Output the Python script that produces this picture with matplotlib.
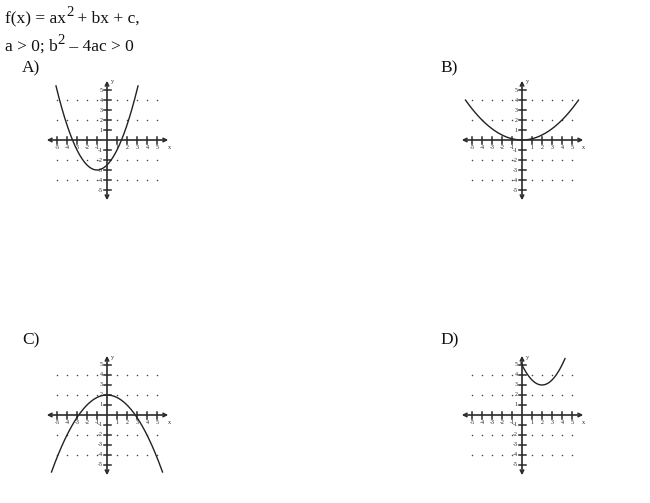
import numpy as np
import matplotlib.pyplot as plt

plt.rcParams['font.family'] = ['Liberation Serif', 'DejaVu Serif']

# answer choices, each a parabola y = a*(x - h)^2 + k
labels = ['A)', 'B)', 'C)', 'D)']
coef_a = [0.5, 0.125, -0.25, 0.5]
vertex_h = [-1.0, 0.0, 0.0, 2.0]
vertex_k = [-3.0, 0.0, 2.0, 3.0]
x_start = [-5.1, -5.65, -5.55, -0.1]
x_end = [3.1, 5.65, 5.55, 4.3]

tick_vals = [-5, -4, -3, -2, -1, 1, 2, 3, 4, 5]
dot_rows = [-4, -2, 2, 4]
dot_cols = [-5, -4, -3, -2, -1, 1, 2, 3, 4, 5]

W, H = 650, 503
fig = plt.figure(figsize=(W / 100, H / 100), dpi=100)
renderer = fig.canvas.get_renderer()


def write_line(pieces, x0, ybase, size):
    # pieces: (text, superscript?) written one after another, baseline in px from top
    x = x0
    for txt, sup in pieces:
        yy = ybase - (7 if sup else 0)
        fs = size * 0.85 if sup else size
        t = fig.text(x / W, 1 - yy / H, txt, fontsize=fs, ha='left', va='baseline', color='#111')
        bb = t.get_window_extent(renderer)
        x += bb.width


# question text
write_line([('f(x) = ax', False), ('2', True), (' + bx + c,', False)], 5, 23, 12.5)
write_line([('a > 0; b', False), ('2', True), (' – 4ac > 0', False)], 5, 51, 12.5)

# pixel position of each graph's origin and its letter
origins = [(107, 140), (522, 140), (107, 415), (522, 415)]
label_pos = [(22, 68), (440, 68), (22, 340), (440, 340)]
half = 70  # pixels, 10 px per unit

col = '#2a2a2a'
for i in range(4):
    ox, oy = origins[i]
    ax = fig.add_axes([(ox - half) / W, 1 - (oy + half) / H, 2 * half / W, 2 * half / H])
    ax.set_xlim(-7, 7)
    ax.set_ylim(-7, 7)
    ax.axis('off')

    # dotted guide rows
    for r in dot_rows:
        ax.scatter(dot_cols, [r] * len(dot_cols), s=1.2, color='#444444', lw=0)

    # axes with arrows at both ends
    ax.annotate('', xy=(6.4, 0), xytext=(-6.3, 0),
                arrowprops=dict(arrowstyle='<->', lw=1.2, color=col, mutation_scale=6))
    ax.annotate('', xy=(0, 6.2), xytext=(0, -6.3),
                arrowprops=dict(arrowstyle='<->', lw=1.2, color=col, mutation_scale=6))

    for t in tick_vals:
        ax.plot([t, t], [-0.35, 0.35], color=col, lw=1.1)
        ax.plot([-0.35, 0.35], [t, t], color=col, lw=1.1)
        ax.text(t, -0.75, str(t), fontsize=4.3, ha='center', va='center', color='#222')
        ax.text(-0.4, t, str(t), fontsize=4.3, ha='right', va='center', color='#222')
    ax.text(6.2, -0.75, 'x', fontsize=4.5, ha='center', va='center', color='#222')
    ax.text(0.5, 5.8, 'y', fontsize=4.5, ha='center', va='center', color='#222')

    xs = np.linspace(x_start[i], x_end[i], 200)
    ys = coef_a[i] * (xs - vertex_h[i]) ** 2 + vertex_k[i]
    ax.plot(xs, ys, color='#222222', lw=1.0)

    lx, ly = label_pos[i]
    fig.text(lx / W, 1 - ly / H, labels[i], fontsize=12.5, ha='left', va='center', color='#111')

fig.savefig('out.png', dpi=100)
